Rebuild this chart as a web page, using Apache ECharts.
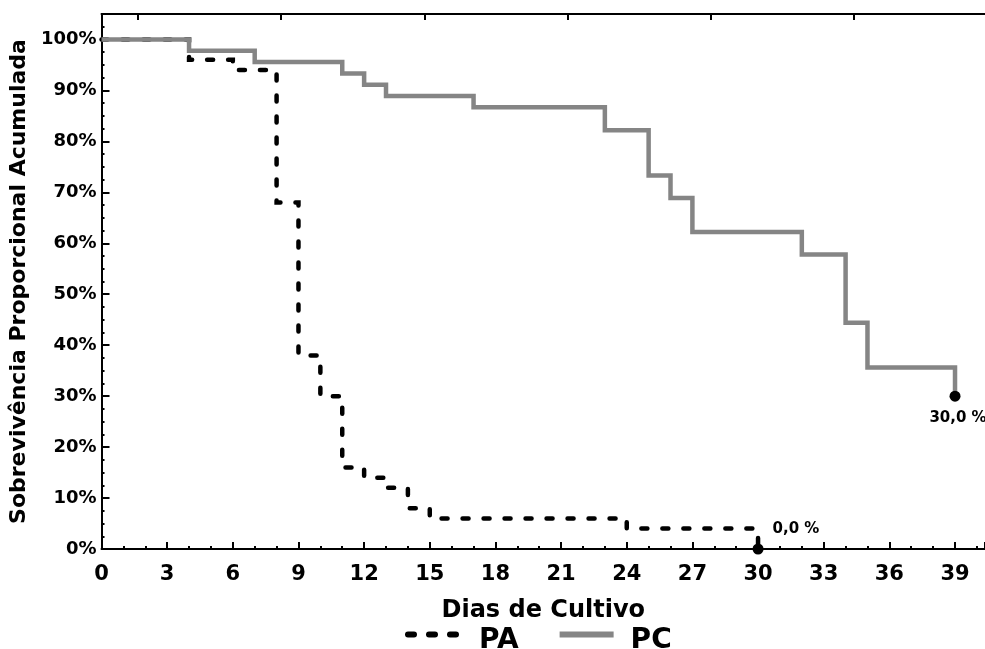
<!DOCTYPE html>
<html><head><meta charset="utf-8">
<script src="https://cdn.jsdelivr.net/npm/echarts@6/dist/echarts.min.js"></script>
<style>html,body{margin:0;padding:0;background:#fff}#c{width:985px;height:649px}</style>
</head><body><div id="c"></div>
<script>
// ---- data ----
const paDays = [0, 4, 6, 8, 9, 10, 11, 12, 13, 14, 15, 24, 30];
const paSurvival = [100, 96, 94, 68, 38, 30, 16, 14, 12, 8, 6, 4, 0];
const pcDays = [0, 4, 7, 11, 12, 13, 17, 23, 25, 26, 27, 32, 34, 35, 39];
const pcSurvival = [100, 97.8, 95.6, 93.3, 91.1, 88.9, 86.7, 82.2, 73.3, 68.9, 62.2, 57.8, 44.4, 35.6, 30.0];
const seriesNames = ['PA', 'PC'];
const endLabels = ['0,0 %', '30,0 %'];
const xTickLabels = ['0','3','6','9','12','15','18','21','24','27','30','33','36','39'];
const yTickLabels = ['0%','10%','20%','30%','40%','50%','60%','70%','80%','90%','100%'];
const topTickValues = [1.674, 8.21, 14.75, 21.29, 27.82, 34.36];
const xTitle = 'Dias de Cultivo';
const yTitle = 'Sobrevivência Proporcional Acumulada';

// ---- chart ----
const FONT = 'DejaVu Sans';
const chart = echarts.init(document.getElementById('c'), null, {renderer: 'canvas'});
const axisLineStyle = {color: '#000', width: 2};

chart.setOption({
  animation: false,
  backgroundColor: '#fff',
  grid: {left: 100, right: 0, top: 14, bottom: 100, containLabel: false},
  legend: {
    data: seriesNames,
    left: 405, top: 627, padding: 0,
    itemWidth: 54, itemHeight: 4, itemGap: 38,
    lineStyle: {width: 6},
    itemStyle: {opacity: 0},
    formatter: '{t|{name}}',
    textStyle: {
      fontFamily: FONT, fontWeight: 'bold', fontSize: 28, color: '#000',
      rich: {t: {fontFamily: FONT, fontWeight: 'bold', fontSize: 28, color: '#000', padding: [13, 0, 0, 12]}}
    }
  },
  xAxis: [{
    type: 'value', position: 'bottom', min: 0, max: 40.37, interval: 3,
    axisLine: {show: true, onZero: false, lineStyle: axisLineStyle},
    axisTick: {show: true, inside: true, length: 7, lineStyle: axisLineStyle},
    minorTick: {show: true, splitNumber: 3, length: 3, lineStyle: axisLineStyle},
    splitLine: {show: false},
    axisLabel: {
      margin: 15, color: '#000', fontFamily: FONT, fontWeight: 'bold', fontSize: 21,
      showMaxLabel: false,
      formatter: v => { const i = Math.round(v / 3); return (Math.abs(v - i * 3) < 1e-6 && i < xTickLabels.length) ? xTickLabels[i] : ''; }
    },
    name: xTitle, nameLocation: 'middle', nameGap: 50,
    nameTextStyle: {fontFamily: FONT, fontWeight: 'bold', fontSize: 24, color: '#000'}
  }, {
    type: 'value', position: 'top', min: 0, max: 40.37,
    axisLine: {show: true, onZero: false, lineStyle: axisLineStyle},
    axisTick: {show: true, inside: true, length: 6, lineStyle: axisLineStyle, customValues: topTickValues},
    axisLabel: {show: false},
    splitLine: {show: false}
  }],
  yAxis: {
    type: 'value', min: 0, max: 105, interval: 10,
    axisLine: {show: true, onZero: false, lineStyle: axisLineStyle},
    axisTick: {show: true, inside: true, length: 8, lineStyle: axisLineStyle},
    minorTick: {show: true, splitNumber: 4, length: 3, lineStyle: axisLineStyle},
    splitLine: {show: false},
    axisLabel: {
      margin: 5, color: '#000', fontFamily: FONT, fontWeight: 'bold', fontSize: 18,
      showMaxLabel: false,
      formatter: v => { const i = Math.round(v / 10); return (Math.abs(v - i * 10) < 1e-6 && i < yTickLabels.length) ? yTickLabels[i] : ''; }
    },
    name: yTitle, nameLocation: 'middle', nameGap: 64, nameRotate: 90,
    nameTextStyle: {fontFamily: FONT, fontWeight: 'bold', fontSize: 22, color: '#000'}
  },
  series: [{
    name: seriesNames[0], type: 'line', step: 'end', symbol: 'none', z: 2,
    data: paDays.map((d, i) => [d, paSurvival[i]]),
    itemStyle: {color: '#000'},
    lineStyle: {color: '#000', width: 4.5, type: [6, 15], cap: 'round', join: 'miter'}
  }, {
    name: seriesNames[1], type: 'line', step: 'end', symbol: 'none', z: 3,
    data: pcDays.map((d, i) => [d, pcSurvival[i]]),
    itemStyle: {color: '#858585'},
    lineStyle: {color: '#858585', width: 4.5, join: 'miter'}
  }, {
    name: 'PA-end', type: 'scatter', z: 5, clip: false, symbolSize: 11,
    itemStyle: {color: '#000', opacity: 1},
    data: [[paDays[paDays.length - 1], paSurvival[paSurvival.length - 1]]],
    label: {show: true, position: 'right', distance: 9, offset: [0, -20], formatter: endLabels[0],
      fontFamily: FONT, fontWeight: 'bold', fontSize: 15, color: '#000'}
  }, {
    name: 'PC-end', type: 'scatter', z: 5, clip: false, symbolSize: 11,
    itemStyle: {color: '#000', opacity: 1},
    data: [[pcDays[pcDays.length - 1], pcSurvival[pcSurvival.length - 1]]],
    label: {show: true, position: 'bottom', distance: 9, offset: [3, 0], formatter: endLabels[1],
      fontFamily: FONT, fontWeight: 'bold', fontSize: 15, color: '#000'}
  }]
});
</script></body></html>
